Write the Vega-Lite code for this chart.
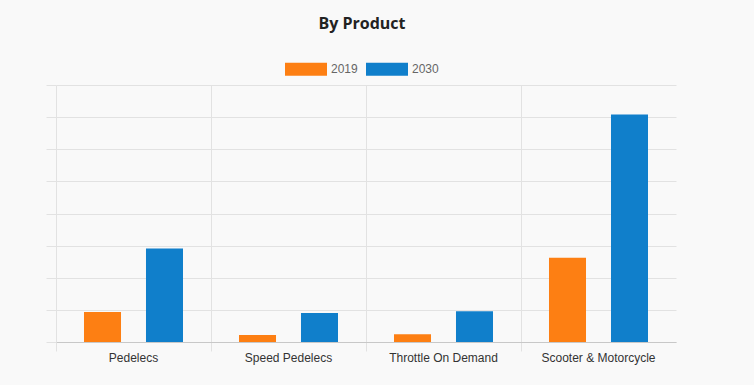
{
  "$schema": "https://vega.github.io/schema/vega-lite/v6.json",
  "width": 620,
  "height": 257,
  "autosize": {"type": "none"},
  "padding": {"left": 56, "top": 85, "right": 78, "bottom": 43},
  "background": "#f9f9f9",
  "title": {
    "text": "By Product",
    "font": "Open Sans",
    "fontSize": 16,
    "fontWeight": "bold",
    "color": "#222222",
    "anchor": "middle",
    "dx": -4,
    "offset": 16
  },
  "data": {
    "values": [
      {"product": "Pedelecs", "year": "2019", "value": 0.93},
      {"product": "Pedelecs", "year": "2030", "value": 2.91},
      {"product": "Speed Pedelecs", "year": "2019", "value": 0.22},
      {"product": "Speed Pedelecs", "year": "2030", "value": 0.9},
      {"product": "Throttle On Demand", "year": "2019", "value": 0.24},
      {"product": "Throttle On Demand", "year": "2030", "value": 0.96},
      {"product": "Scooter & Motorcycle", "year": "2019", "value": 2.62},
      {"product": "Scooter & Motorcycle", "year": "2030", "value": 7.08}
    ]
  },
  "mark": {"type": "bar"},
  "encoding": {
    "x": {
      "field": "product",
      "type": "nominal",
      "sort": null,
      "title": null,
      "scale": {"paddingInner": 0, "paddingOuter": 0},
      "axis": {
        "bandPosition": 0,
        "grid": true,
        "gridColor": "#e2e2e2",
        "ticks": true,
        "tickSize": 9,
        "tickColor": "#e2e2e2",
        "domain": true,
        "domainColor": "#c8c8c8",
        "labelAngle": 0,
        "labelFont": "Liberation Sans",
        "labelFontSize": 12,
        "labelColor": "#333333",
        "labelPadding": 1
      }
    },
    "xOffset": {
      "field": "year",
      "type": "nominal",
      "scale": {"paddingInner": 0.403, "paddingOuter": 0.4516}
    },
    "y": {
      "field": "value",
      "type": "quantitative",
      "title": null,
      "scale": {"domain": [0, 8], "nice": false},
      "axis": {
        "tickCount": 8,
        "grid": true,
        "gridColor": "#e2e2e2",
        "domain": false,
        "ticks": true,
        "tickSize": 10,
        "tickColor": "#e2e2e2",
        "labels": false
      }
    },
    "color": {
      "field": "year",
      "type": "nominal",
      "title": null,
      "scale": {"domain": ["2019", "2030"], "range": ["#fd7f13", "#107fcb"]},
      "legend": {
        "orient": "none",
        "direction": "horizontal",
        "legendX": 229,
        "legendY": -37,
        "padding": 0,
        "symbolType": "M-1,-0.31H1V0.31H-1Z",
        "symbolSize": 1764,
        "symbolStrokeWidth": 0,
        "symbolOpacity": 1,
        "labelFont": "Liberation Sans",
        "labelFontSize": 12,
        "labelColor": "#666666",
        "labelOffset": 4,
        "columnPadding": 8
      }
    }
  },
  "config": {
    "view": {"stroke": null}
  }
}
